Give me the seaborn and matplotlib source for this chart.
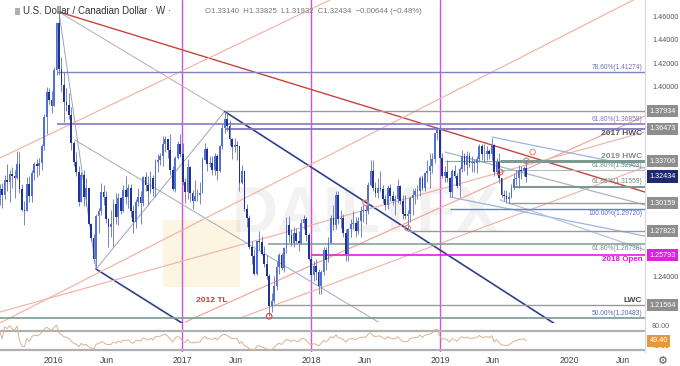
import numpy as np
import pandas as pd
import matplotlib
matplotlib.use("Agg")
import matplotlib.pyplot as plt
import matplotlib.dates as mdates
import matplotlib.transforms as mtrans
from matplotlib.patches import Rectangle
from matplotlib.ticker import FuncFormatter
import seaborn as sns

# ---------------- data (weekly USD/CAD) ----------------
first_week = "2015-08-03"
first_open = 1.3075

close = [
    # 2015
    1.3140, 1.3085, 1.3210, 1.3200, 1.3265, 1.3245, 1.3230, 1.3350, 1.3140, 1.2960, 1.2950,
    1.3180, 1.3075, 1.3270, 1.3350, 1.3330, 1.3360, 1.3500, 1.3750, 1.3960, 1.3890,
    # 2016
    1.3840, 1.4140, 1.4540, 1.4150, 1.4020, 1.3870, 1.3850, 1.3760, 1.3530, 1.3370, 1.3280,
    1.3030, 1.3260, 1.3070, 1.3150, 1.2840, 1.2720, 1.2545, 1.2910, 1.2950, 1.3110, 1.3070,
    1.2880, 1.2820, 1.2840, 1.3010, 1.2900, 1.3060, 1.2950, 1.3130, 1.3070, 1.3150, 1.2950,
    1.2860, 1.3030, 1.3070, 1.3020, 1.3240, 1.3170, 1.3120, 1.3230, 1.3140, 1.3370, 1.3380,
    1.3420, 1.3520, 1.3560, 1.3470, 1.3300, 1.3140, 1.3400, 1.3520, 1.3430,
    # 2017
    1.3200, 1.3110, 1.3320, 1.3100, 1.3040, 1.3080, 1.3090, 1.3100, 1.3380, 1.3480, 1.3350,
    1.3360, 1.3300, 1.3420, 1.3290, 1.3500, 1.3650, 1.3730, 1.3670, 1.3560, 1.3490, 1.3510,
    1.3500, 1.3190, 1.3290, 1.2970, 1.2890, 1.2650, 1.2570, 1.2420, 1.2700, 1.2690, 1.2590,
    1.2500, 1.2400, 1.2150, 1.2190, 1.2320, 1.2480, 1.2580, 1.2470, 1.2640, 1.2830, 1.2750,
    1.2680, 1.2770, 1.2700, 1.2680, 1.2850, 1.2880, 1.2750, 1.2550,
    # 2018
    1.2410, 1.2490, 1.2440, 1.2320, 1.2440, 1.2620, 1.2540, 1.2680, 1.2890, 1.2830, 1.3090,
    1.2880, 1.2890, 1.2770, 1.2590, 1.2800, 1.2840, 1.2850, 1.2780, 1.2870, 1.2950, 1.2960,
    1.2950, 1.3170, 1.3290, 1.3150, 1.3100, 1.3150, 1.3140, 1.3050, 1.3000, 1.3150, 1.3080,
    1.3040, 1.3050, 1.3160, 1.3040, 1.2930, 1.2910, 1.2930, 1.3060, 1.3090, 1.3120, 1.3120,
    1.3230, 1.3150, 1.3270, 1.3290, 1.3330, 1.3390, 1.3610, 1.3640,
    # 2019
    1.3400, 1.3250, 1.3280, 1.3230, 1.3110, 1.3290, 1.3250, 1.3160, 1.3310, 1.3420, 1.3340,
    1.3420, 1.3360, 1.3360, 1.3360, 1.3390, 1.3500, 1.3430, 1.3430, 1.3460, 1.3430, 1.3510,
    1.3280, 1.3370, 1.3230, 1.3090, 1.3080, 1.3050, 1.3070, 1.3150, 1.3220, 1.3230, 1.3300,
    1.3290, 1.3314, 1.3243,
]

high = [
    # 2015
    1.3180, 1.3190, 1.3260, 1.3350, 1.3300, 1.3320, 1.3300, 1.3460, 1.3450, 1.3180, 1.3040,
    1.3240, 1.3250, 1.3300, 1.3370, 1.3390, 1.3400, 1.3520, 1.3770, 1.4000, 1.3990,
    # 2016
    1.3970, 1.4170, 1.4550, 1.4630, 1.4250, 1.4130, 1.3990, 1.3950, 1.3830, 1.3540, 1.3450,
    1.3330, 1.3280, 1.3300, 1.3230, 1.3150, 1.2850, 1.2760, 1.2930, 1.2980, 1.3190, 1.3170,
    1.3120, 1.2890, 1.2960, 1.3050, 1.3100, 1.3100, 1.3070, 1.3170, 1.3250, 1.3180, 1.3180,
    1.3000, 1.3050, 1.3150, 1.3120, 1.3250, 1.3280, 1.3250, 1.3290, 1.3260, 1.3390, 1.3430,
    1.3440, 1.3590, 1.3590, 1.3560, 1.3600, 1.3330, 1.3420, 1.3540, 1.3600,
    # 2017
    1.3530, 1.3230, 1.3390, 1.3330, 1.3130, 1.3210, 1.3140, 1.3200, 1.3410, 1.3530, 1.3490,
    1.3420, 1.3420, 1.3440, 1.3430, 1.3510, 1.3690, 1.3793, 1.3780, 1.3720, 1.3570, 1.3570,
    1.3540, 1.3500, 1.3340, 1.3300, 1.3010, 1.2920, 1.2700, 1.2630, 1.2700, 1.2780, 1.2740,
    1.2660, 1.2580, 1.2420, 1.2260, 1.2400, 1.2530, 1.2600, 1.2600, 1.2650, 1.2900, 1.2910,
    1.2800, 1.2820, 1.2810, 1.2780, 1.2880, 1.2920, 1.2900, 1.2770,
    # 2018
    1.2580, 1.2530, 1.2550, 1.2460, 1.2450, 1.2650, 1.2650, 1.2730, 1.2920, 1.3000, 1.3120,
    1.3125, 1.2960, 1.2930, 1.2800, 1.2810, 1.2880, 1.2950, 1.2900, 1.2900, 1.2990, 1.3010,
    1.3000, 1.3200, 1.3380, 1.3380, 1.3200, 1.3230, 1.3290, 1.3170, 1.3090, 1.3170, 1.3180,
    1.3120, 1.3090, 1.3220, 1.3170, 1.3090, 1.3090, 1.2960, 1.3080, 1.3140, 1.3150, 1.3170,
    1.3250, 1.3260, 1.3280, 1.3380, 1.3440, 1.3440, 1.3610, 1.3665,
    # 2019
    1.3670, 1.3440, 1.3330, 1.3380, 1.3240, 1.3310, 1.3340, 1.3270, 1.3320, 1.3470, 1.3440,
    1.3460, 1.3450, 1.3420, 1.3390, 1.3420, 1.3520, 1.3520, 1.3520, 1.3500, 1.3480, 1.3565,
    1.3520, 1.3400, 1.3440, 1.3230, 1.3130, 1.3130, 1.3110, 1.3180, 1.3270, 1.3300, 1.3340,
    1.3330, 1.3330, 1.3383,
]

low = [
    # 2015
    1.3000, 1.2975, 1.3050, 1.3120, 1.3030, 1.3150, 1.3060, 1.3220, 1.3100, 1.2950, 1.2830,
    1.2950, 1.3030, 1.3030, 1.3210, 1.3240, 1.3260, 1.3300, 1.3470, 1.3600, 1.3860,
    # 2016
    1.3780, 1.3840, 1.4100, 1.4100, 1.3960, 1.3700, 1.3800, 1.3730, 1.3470, 1.3330, 1.3250,
    1.2990, 1.3030, 1.2990, 1.2990, 1.2830, 1.2700, 1.2510, 1.2460, 1.2770, 1.2920, 1.3000,
    1.2850, 1.2650, 1.2730, 1.2650, 1.2840, 1.2830, 1.2930, 1.2940, 1.3010, 1.2980, 1.2900,
    1.2770, 1.2810, 1.2990, 1.2840, 1.2990, 1.3120, 1.3000, 1.3100, 1.3080, 1.3070, 1.3280,
    1.3340, 1.3330, 1.3450, 1.3400, 1.3260, 1.3120, 1.3110, 1.3390, 1.3410,
    # 2017
    1.3170, 1.3020, 1.3050, 1.3030, 1.2970, 1.3040, 1.3040, 1.3010, 1.3100, 1.3380, 1.3290,
    1.3320, 1.3260, 1.3260, 1.3210, 1.3280, 1.3480, 1.3610, 1.3630, 1.3510, 1.3390, 1.3450,
    1.3380, 1.3120, 1.3180, 1.2950, 1.2820, 1.2630, 1.2500, 1.2410, 1.2410, 1.2620, 1.2580,
    1.2480, 1.2380, 1.2062, 1.2100, 1.2170, 1.2280, 1.2420, 1.2450, 1.2440, 1.2600, 1.2690,
    1.2660, 1.2650, 1.2680, 1.2610, 1.2670, 1.2800, 1.2700, 1.2540,
    # 2018
    1.2360, 1.2360, 1.2370, 1.2250, 1.2250, 1.2410, 1.2450, 1.2520, 1.2680, 1.2790, 1.2800,
    1.2840, 1.2810, 1.2730, 1.2530, 1.2530, 1.2730, 1.2800, 1.2730, 1.2760, 1.2730, 1.2860,
    1.2840, 1.2930, 1.3160, 1.3120, 1.3070, 1.3060, 1.3120, 1.3020, 1.2960, 1.2970, 1.3040,
    1.3000, 1.2920, 1.3020, 1.3010, 1.2880, 1.2880, 1.2780, 1.2860, 1.2920, 1.3010, 1.3050,
    1.3080, 1.3130, 1.3120, 1.3200, 1.3150, 1.3270, 1.3360, 1.3550,
    # 2019
    1.3360, 1.3230, 1.3200, 1.3200, 1.3070, 1.3070, 1.3230, 1.3150, 1.3070, 1.3280, 1.3290,
    1.3260, 1.3320, 1.3280, 1.3280, 1.3270, 1.3370, 1.3380, 1.3370, 1.3380, 1.3390, 1.3380,
    1.3250, 1.3260, 1.3190, 1.3070, 1.3040, 1.3020, 1.3016, 1.3060, 1.3130, 1.3170, 1.3150,
    1.3220, 1.3250, 1.3193,
]

rsi_last = 49.40
price_ticks = [1.24, 1.40, 1.42, 1.44, 1.46]
x_tick_dates = ["2016-01-01", "2016-06-01", "2017-01-01", "2017-06-01", "2018-01-01",
                "2018-06-01", "2019-01-01", "2019-06-01", "2020-01-01", "2020-06-01"]
x_tick_labels = ["2016", "Jun", "2017", "Jun", "2018", "Jun", "2019", "Jun", "2020", "Jun"]
year_lines = ["2017-01-01", "2018-01-01", "2019-01-01"]

# horizontal levels: (price, start date, colour, width)
levels = [
    (1.41274, "2016-01-12", "#7f84c2", 1.0),
    (1.37934, "2017-05-01", "#9a9a9a", 1.0),
    (1.36858, "2016-01-12", "#8f86c9", 1.3),
    (1.36473, "2017-05-01", "#7f74bf", 1.3),
    (1.33706, "2019-01-15", "#8aa39c", 0.8),
    (1.33706, "2019-06-20", "#7d9a92", 2.2),
    (1.32963, "2019-06-20", "#a9bcb6", 0.7),
    (1.31559, "2019-07-31", "#7d9a92", 1.5),
    (1.30159, "2019-07-11", "#9a9a9a", 1.0),
    (1.29720, "2019-01-29", "#6a7fd4", 1.0),
    (1.27823, "2018-10-02", "#9a9a9a", 1.0),
    (1.26738, "2017-09-01", "#7d9a92", 1.1),
    (1.25793, "2018-01-01", "#e020d8", 1.2),
    (1.21564, "2017-09-08", "#9a9a9a", 1.0),
    (1.20483, "2015-08-01", "#7a9a96", 1.2),
]

# level captions: (text, price, vertical side, colour, size, weight)
captions = [
    ("78.60%(1.41274)", 1.41274, "above", "#6f74b8", 4.8, "normal"),
    ("61.80%(1.36858)", 1.36858, "above", "#7f76c0", 4.8, "normal"),
    ("2017 HWC", 1.36473, "below", "#555555", 6.0, "bold"),
    ("2019 HWC", 1.33706, "above", "#8a8a8a", 6.0, "bold"),
    ("61.80%(1.32963)", 1.32963, "above", "#6f8f88", 4.8, "normal"),
    ("61.80%(1.31559)", 1.31559, "above", "#6f8f88", 4.8, "normal"),
    ("100.00%(1.29720)", 1.29720, "below", "#5a6fc8", 4.8, "normal"),
    ("61.80%(1.26738)", 1.26738, "below", "#6f8f88", 4.8, "normal"),
    ("2018 Open", 1.25793, "below", "#d81ccf", 5.8, "bold"),
    ("LWC", 1.21564, "above", "#444444", 6.0, "bold"),
    ("50.00%(1.20483)", 1.20483, "above", "#5a6fc8", 4.8, "normal"),
]

# price-axis tags: (price, face colour)
tags = [
    (1.37934, "#8e8e8e"), (1.36473, "#8e8e8e"), (1.33706, "#8e8e8e"),
    (1.32434, "#1d2b6e"), (1.30159, "#8e8e8e"), (1.27823, "#8e8e8e"),
    (1.25793, "#e020e0"), (1.21564, "#8e8e8e"),
]

# trend lines: (date0, price0, date1, price1, colour, width)
trend_lines = [
    ("2016-01-18", 1.4634, "2020-08-03", 1.3112, "#c8433a", 1.0),
    ("2016-01-18", 1.4634, "2017-05-01", 1.3793, "#b9a9b9", 0.7),
    ("2016-01-18", 1.4634, "2016-05-02", 1.2461, "#9aa3c4", 0.7),
    ("2016-05-02", 1.2461, "2017-05-01", 1.3793, "#9aa3c4", 0.7),
    ("2016-05-02", 1.2461, "2017-01-31", 1.1947, "#2e3f8f", 1.2),
    ("2017-05-01", 1.3793, "2020-01-31", 1.1863, "#2e3f8f", 1.2),
    ("2016-03-03", 1.3552, "2018-07-10", 1.2013, "#a5a9b8", 0.7),
    ("2015-08-04", 1.3400, "2018-02-23", 1.4735, "#f2b0a0", 0.8),
    ("2015-08-04", 1.2005, "2020-07-01", 1.4735, "#f2b0a0", 0.8),
    ("2017-01-09", 1.2013, "2020-08-03", 1.3755, "#f0a090", 0.8),
    ("2017-06-14", 1.2047, "2020-08-03", 1.3324, "#f2b0a0", 0.8),
    ("2015-08-04", 1.2098, "2020-08-03", 1.3620, "#f2b0a0", 0.8),
    ("2019-05-28", 1.3577, "2020-08-03", 1.3315, "#9fb3e0", 0.9),
    ("2019-01-15", 1.3450, "2020-08-03", 1.3003, "#a8b4cc", 0.9),
    ("2019-01-29", 1.3070, "2020-08-03", 1.2740, "#9fb3e0", 0.9),
    ("2019-06-20", 1.3045, "2020-08-03", 1.2622, "#b8c4dc", 0.9),
]

# circle markers: (date, price, colour)
circles = [
    ("2017-09-04", 1.2062, "#d9534f"), ("2018-06-04", 1.3020, "#e08878"),
    ("2018-10-01", 1.2808, "#d98a80"), ("2019-06-20", 1.3281, "#e06a60"),
    ("2019-09-02", 1.3375, "#b0907f"), ("2019-09-20", 1.3450, "#e89a8a"),
]

# ---------------- figure ----------------
sns.set_theme(style="white")
plt.rcParams["font.family"] = ["Liberation Sans", "DejaVu Sans"]

W, H = 680, 366
fig = plt.figure(figsize=(6.8, 3.66), dpi=100)
fig.patch.set_facecolor("white")
ax = fig.add_axes([0, 1 - 323 / H, 645 / W, 323 / H])
ax2 = fig.add_axes([0, 1 - 352 / H, 645 / W, 29 / H], sharex=ax)
for a in (ax, ax2):
    a.set_facecolor("white")
    for s in a.spines.values():
        s.set_visible(False)
    a.spines["right"].set_visible(True)
    a.spines["right"].set_color("#d8d8d8")
    a.spines["right"].set_linewidth(0.8)

close_a = np.array(close)
open_a = np.r_[first_open, close_a[:-1]]
high_a = np.maximum(np.array(high), np.maximum(open_a, close_a))
low_a = np.minimum(np.array(low), np.minimum(open_a, close_a))
dates = pd.date_range(first_week, periods=len(close), freq="7D")
xd = mdates.date2num(dates)

base = mdates.date2num(pd.Timestamp("2016-01-01"))
x0 = base - 53 / 129 * 365.25
x1 = base + 592 / 129 * 365.25
ax.set_xlim(x0, x1)
ax.set_ylim(1.20051, 1.47354)

D = mdates.date2num

# watermark
ax.add_patch(Rectangle((163 / 645, 36 / 323), 77 / 645, 67 / 323, transform=ax.transAxes,
                       fc="#f6dfa0", ec="none", alpha=0.3, zorder=0.2))
ax.text(365 / 645, (323 - 215) / 323, "DAILYFX", transform=ax.transAxes, fontsize=46,
        fontweight="bold", color="#9a9a9a", alpha=0.12, ha="center", va="center", zorder=0.3)

# vertical year lines
for d in year_lines:
    for a in (ax, ax2):
        a.axvline(D(pd.Timestamp(d)), color="#d84fe0", lw=1.0, zorder=1)

# horizontal levels
for p, start, col, lw in levels:
    ax.hlines(p, D(pd.Timestamp(start)), x1, color=col, lw=lw, zorder=1.5)

# trend lines
for d0, p0, d1, p1, col, lw in trend_lines:
    ax.plot([D(pd.Timestamp(d0)), D(pd.Timestamp(d1))], [p0, p1], color=col, lw=lw, zorder=1.2)

# candles
up = close_a >= open_a
ax.vlines(xd, low_a, high_a, color="#6f7db5", lw=0.65, zorder=2)
body_lo = np.minimum(open_a, close_a)
body_h = np.maximum(np.abs(close_a - open_a), 0.0006)
ax.bar(xd[up], body_h[up], bottom=body_lo[up], width=5.0, color="#4f6fdc", lw=0, zorder=3)
ax.bar(xd[~up], body_h[~up], bottom=body_lo[~up], width=5.0, color="#1f3394", lw=0, zorder=3)

# circles
for d, p, col in circles:
    ax.scatter([D(pd.Timestamp(d))], [p], s=16, facecolors="none", edgecolors=col,
               linewidths=0.9, zorder=4)

# captions
trans = mtrans.blended_transform_factory(ax.transAxes, ax.transData)
for txt, p, side, col, fs, fw in captions:
    ax.annotate(txt, xy=(1, p), xycoords=trans, xytext=(-2, 1 if side == "above" else -1),
                textcoords="offset points", ha="right",
                va="bottom" if side == "above" else "top",
                fontsize=fs, color=col, fontweight=fw, zorder=6)

ax.text(212 / 645, (323 - 301) / 323, "2012 TL", transform=ax.transAxes, fontsize=6,
        fontweight="bold", color="#d0393a", ha="center", va="center", zorder=6)

# price axis
ax.yaxis.tick_right()
ax.set_yticks(price_ticks)
ax.yaxis.set_major_formatter(FuncFormatter(lambda v, _: f"{v:.5f}"))
ax.tick_params(axis="y", length=0, pad=5, labelsize=5.2, labelcolor="#555555")
ax.tick_params(axis="x", length=0, labelbottom=False)
ax.grid(False)
for p, col in tags:
    ax.annotate(f"{p:.5f}", xy=(1, p), xycoords=trans, xytext=(3.2, 0),
                textcoords="offset points", ha="left", va="center", fontsize=5.2,
                color="white", annotation_clip=False, zorder=10,
                bbox=dict(boxstyle="square,pad=0.35", fc=col, ec="none"))

# RSI panel
delta = np.diff(np.r_[first_open, close_a])
gain = pd.Series(np.clip(delta, 0, None)).ewm(alpha=1 / 14, adjust=True).mean()
loss = pd.Series(np.clip(-delta, 0, None)).ewm(alpha=1 / 14, adjust=True).mean()
rsi = (100 - 100 / (1 + gain / loss.replace(0, np.nan))).fillna(70).values
rsi_df = pd.DataFrame({"week": dates, "rsi": rsi})
sns.lineplot(data=rsi_df, x="week", y="rsi", ax=ax2, color="#d8b48e", lw=0.7)
ax2.axhline(70, color="#b0b0b0", lw=1.6, zorder=1)
ax2.axhline(30, color="#b0b0b0", lw=1.6, zorder=1)
ax2.set_ylim(25.3, 86.3)
ax2.set_xlim(x0, x1)
ax2.set_xlabel("")
ax2.set_ylabel("")
ax2.yaxis.tick_right()
ax2.set_yticks([40, 80])
ax2.set_yticklabels(["40.00", "80.00"])
ax2.tick_params(axis="y", length=0, pad=5, labelsize=5.2, labelcolor="#666666")
trans2 = mtrans.blended_transform_factory(ax2.transAxes, ax2.transData)
ax2.annotate(f"{rsi_last:.2f}", xy=(1, rsi_last), xycoords=trans2, xytext=(3.2, 0),
             textcoords="offset points", ha="left", va="center", fontsize=5.2,
             color="white", annotation_clip=False, zorder=10,
             bbox=dict(boxstyle="square,pad=0.35", fc="#e8983a", ec="none"))
ax2.set_xticks([D(pd.Timestamp(d)) for d in x_tick_dates])
ax2.set_xticklabels(x_tick_labels)
ax2.tick_params(axis="x", length=0, pad=3, labelsize=6.3, labelcolor="#444444")
ax2.grid(False)

# header
fig.patches.append(Rectangle((15 / W, 1 - 15 / H), 5 / W, 7 / H, transform=fig.transFigure,
                             fc="#b0b0b0", ec="none"))
fig.text(23 / W, 1 - 11.5 / H, "U.S. Dollar / Canadian Dollar · W ·", fontsize=7,
         color="#333333", va="center", ha="left")
fig.text(205 / W, 1 - 11.5 / H,
         "O1.33140  H1.33825  L1.31932  C1.32434  −0.00644 (−0.48%)",
         fontsize=5.6, color="#777777", va="center", ha="left")
fig.text(663 / W, 1 - 361 / H, "⚙", fontsize=8, color="#555555", va="center", ha="center",
         family=["DejaVu Sans"])

fig.savefig("out.png", dpi=100, facecolor="white")
